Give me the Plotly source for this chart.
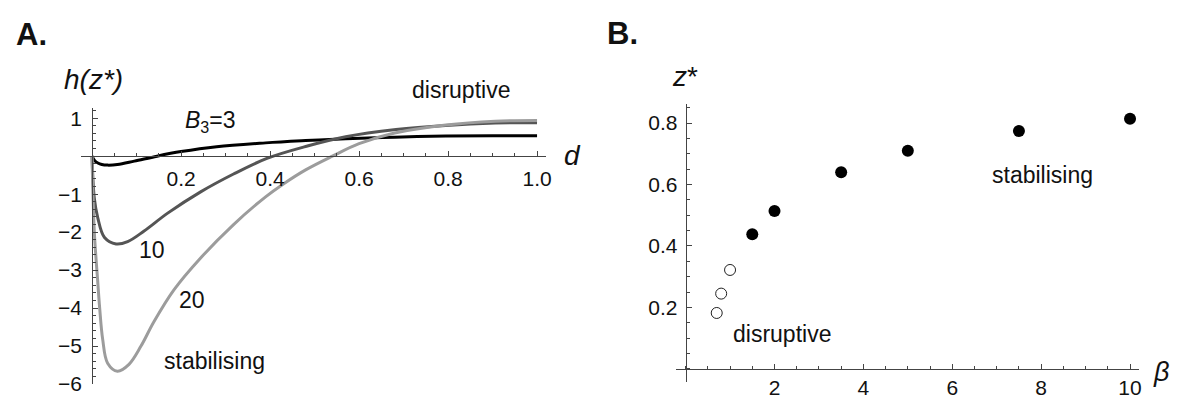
import plotly.graph_objects as go

# ---------------- data ----------------
# Panel A: h(z*) vs d for three B3 values
d_b3 = [0, 0.006, 0.013, 0.022, 0.035, 0.057, 0.095, 0.146, 0.2, 0.28, 0.39, 0.48, 0.57, 0.68, 0.795, 0.9, 1.0]
h_b3 = [0, -0.12, -0.18, -0.22, -0.236, -0.22, -0.13, 0.0, 0.12, 0.25, 0.35, 0.41, 0.46, 0.50, 0.53, 0.54, 0.54]

d_b10 = [0, 0.005, 0.013, 0.028, 0.054, 0.08, 0.117, 0.17, 0.244, 0.318, 0.393, 0.482, 0.57, 0.683, 0.795, 0.906, 1.0]
h_b10 = [0, -1.1, -1.63, -2.14, -2.31, -2.25, -1.97, -1.5, -0.94, -0.47, -0.06, 0.26, 0.51, 0.70, 0.81, 0.87, 0.88]

d_b20 = [0, 0.005, 0.013, 0.017, 0.024, 0.035, 0.057, 0.083, 0.11, 0.139, 0.184, 0.244, 0.318, 0.39, 0.43, 0.48, 0.54, 0.6, 0.68, 0.795, 0.906, 1.0]
h_b20 = [0, -1.97, -3.34, -3.98, -4.83, -5.45, -5.66, -5.48, -5.0, -4.36, -3.52, -2.68, -1.8, -1.07, -0.73, -0.36, 0.0, 0.33, 0.61, 0.82, 0.92, 0.94]

# Panel B: z* vs beta
beta_open = [0.7, 0.8, 1.0]
z_open = [0.182, 0.245, 0.322]
beta_filled = [1.5, 2, 3.5, 5, 7.5, 10]
z_filled = [0.438, 0.514, 0.640, 0.710, 0.774, 0.814]

xA_ticks = [0.2, 0.4, 0.6, 0.8, 1.0]
xA_labels = ["0.2", "0.4", "0.6", "0.8", "1.0"]
yA_ticks = [1, -1, -2, -3, -4, -5, -6]
yA_labels = ["1", "−1", "−2", "−3", "−4", "−5", "−6"]
xB_ticks = [2, 4, 6, 8, 10]
xB_labels = ["2", "4", "6", "8", "10"]
yB_ticks = [0.2, 0.4, 0.6, 0.8]
yB_labels = ["0.2", "0.4", "0.6", "0.8"]

# ---------------- layout geometry ----------------
W, H = 1179, 399
FONT = "Liberation Sans, Arial, sans-serif"
AX = "#444444"

xA_range = [-0.025, 1.02]
yA_range = [-6.0, 1.28]
xA_dom = [73.3 / W, 540.7 / W]
yA_dom = [(H - 386.7) / H, (H - 101.6) / H]

xB_range = [-0.21, 10.2]
yB_range = [-0.044, 0.861]
xB_dom = [671.7 / W, 1136.7 / W]
yB_dom = [(H - 385) / H, (H - 98.3) / H]


def cross_pos(rng, dom):
    return dom[0] + (0 - rng[0]) / (rng[1] - rng[0]) * (dom[1] - dom[0])


def axis(rng, dom, pos, tv, tt, minor_dtick, side, standoff):
    return dict(
        range=rng, domain=dom, anchor="free", position=pos, side=side,
        showline=True, linecolor=AX, linewidth=1,
        ticks="inside", ticklen=5, tickwidth=1, tickcolor=AX,
        tickmode="array", tickvals=tv, ticktext=tt,
        ticklabelstandoff=standoff,
        minor=dict(dtick=minor_dtick, tick0=0, ticks="inside", ticklen=3,
                   tickwidth=1, tickcolor=AX),
        showgrid=False, zeroline=False,
        tickfont=dict(family=FONT, size=21, color="#111"),
        fixedrange=True,
    )


fig = go.Figure()

curve_colors = ["#000000", "#555555", "#9c9c9c"]
for xs, ys, c in [(d_b3, h_b3, curve_colors[0]),
                  (d_b10, h_b10, curve_colors[1]),
                  (d_b20, h_b20, curve_colors[2])]:
    fig.add_trace(go.Scatter(x=xs, y=ys, mode="lines",
                             line=dict(color=c, width=3, shape="spline", smoothing=1.0),
                             xaxis="x", yaxis="y", cliponaxis=False,
                             hoverinfo="skip"))

fig.add_trace(go.Scatter(x=beta_open, y=z_open, mode="markers",
                         marker=dict(size=11, color="white",
                                     line=dict(color="#222", width=1)),
                         xaxis="x2", yaxis="y2", hoverinfo="skip"))
fig.add_trace(go.Scatter(x=beta_filled, y=z_filled, mode="markers",
                         marker=dict(size=12, color="black",
                                     line=dict(color="black", width=0)),
                         xaxis="x2", yaxis="y2", hoverinfo="skip"))

layout = dict(
    width=W, height=H, margin=dict(l=0, r=0, t=0, b=0),
    paper_bgcolor="white", plot_bgcolor="white", showlegend=False,
    xaxis=axis(xA_range, xA_dom, cross_pos(yA_range, yA_dom), xA_ticks, xA_labels, 0.05, "bottom", 4),
    yaxis=axis(yA_range, yA_dom, cross_pos(xA_range, xA_dom), yA_ticks, yA_labels, 0.2, "left", 6),
    xaxis2=axis(xB_range, xB_dom, cross_pos(yB_range, yB_dom), xB_ticks, xB_labels, 0.5, "bottom", 0),
    yaxis2=axis(yB_range, yB_dom, cross_pos(xB_range, xB_dom), yB_ticks, yB_labels, 0.05, "left", 4),
)
fig.update_layout(**layout)


def P(px, py):
    return px / W, 1 - py / H


txt = dict(family=FONT, size=23, color="#111")
big = dict(family=FONT, size=28, color="#111")
ann = [
    dict(text="<b>A.</b>", pos=P(24, 26), font=dict(family=FONT, size=31, color="#111")),
    dict(text="<b>B.</b>", pos=P(618, 25), font=dict(family=FONT, size=31, color="#111")),
    dict(text="<i>h(z*)</i>", pos=P(86, 73), font=big),
    dict(text="<i>d</i>", pos=P(567, 151), font=big),
    dict(text="disruptive", pos=P(455, 84), font=txt),
    dict(text="<i>z</i>*", pos=P(680, 70), font=big),
    dict(text="<i>β</i>", pos=P(1159, 374), font=dict(family=FONT, size=27, color="#111")),
]
annotations = []
for a in ann:
    annotations.append(dict(text=a["text"], x=a["pos"][0], y=a["pos"][1],
                            xref="paper", yref="paper", font=a["font"],
                            showarrow=False, xanchor="center", yanchor="middle"))

data_ann = [
    dict(text="<i>B</i><sub>3</sub>=3", x=0.267, y=0.91, xref="x", yref="y"),
    dict(text="10", x=0.134, y=-2.48, xref="x", yref="y"),
    dict(text="20", x=0.225, y=-3.79, xref="x", yref="y"),
    dict(text="stabilising", x=0.276, y=-5.40, xref="x", yref="y"),
    dict(text="stabilising", x=8.04, y=0.632, xref="x2", yref="y2"),
    dict(text="disruptive", x=2.17, y=0.114, xref="x2", yref="y2"),
]
for a in data_ann:
    a.update(showarrow=False, xanchor="center", yanchor="middle", font=txt)
    annotations.append(a)

fig.update_layout(annotations=annotations)

fig.write_html("out.html")
